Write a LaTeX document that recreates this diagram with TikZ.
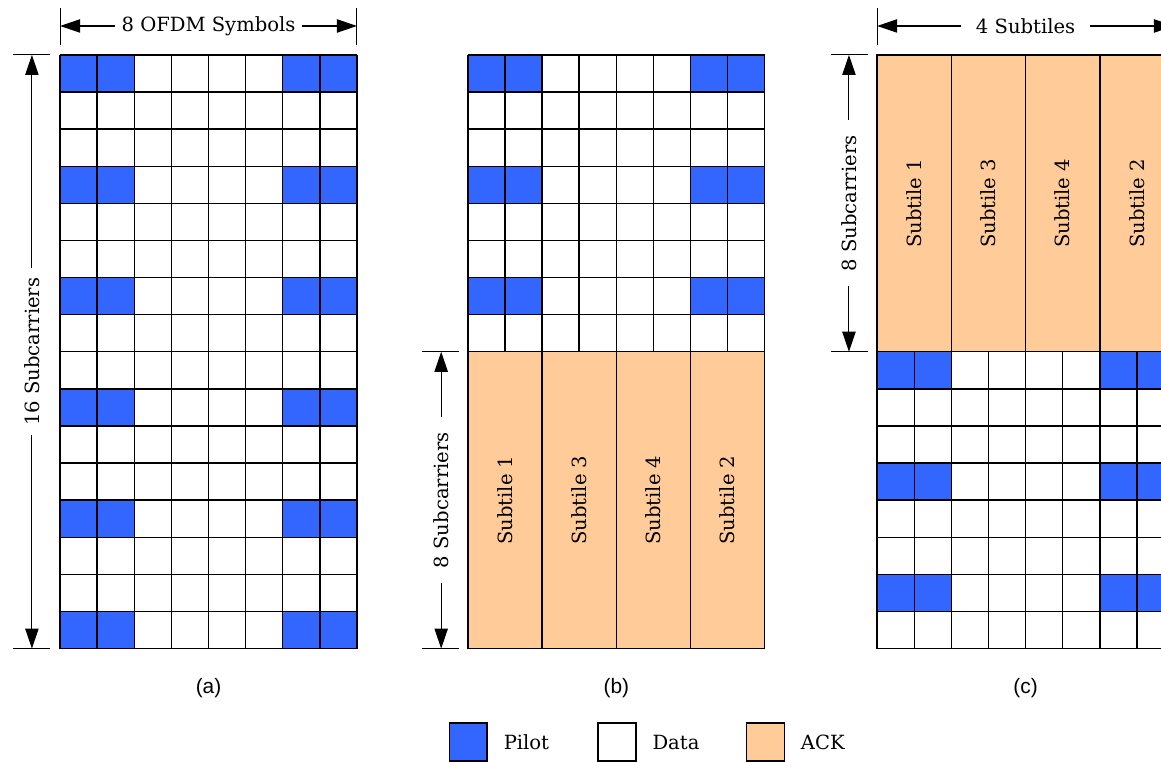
\documentclass[tikz,border=0pt]{standalone}
\usepackage{fontspec}
\setmainfont{DejaVu Serif}
\newfontfamily\capfont{Liberation Sans}
\usepackage{xcolor}
\usetikzlibrary{positioning, arrows.meta}
\definecolor{pilotblue}{RGB}{51,102,255}
\definecolor{ackorange}{RGB}{255,204,153}
\tikzset{
    gridline/.style={line width=1.1pt, black},
    pilotcell/.style={fill=pilotblue},
    ackbox/.style={draw, line width=1.1pt, fill=ackorange, rotate=90, minimum width=8cm, minimum height=2cm, inner sep=0pt, font=\fontsize{15}{18}\selectfont},
    dimlbl/.style={font=\fontsize{15}{18}\selectfont, inner sep=0.3cm},
    dimarrow/.style={-{Triangle[length=5.4mm, width=3.6mm]}, line width=0.8pt},
    dimtick/.style={line width=0.8pt},
    caplbl/.style={font=\capfont\fontsize{16}{19}\selectfont},
    legbox/.style={draw, line width=1.1pt, minimum size=1.02cm, inner sep=0pt},
    legtxt/.style={font=\fontsize{15}{18}\selectfont, inner sep=2pt},
}

\begin{document}
\begin{tikzpicture}
    \useasboundingbox (0,0) rectangle (31.29,-20.51);
    \clip (0,0) rectangle (31.29,-20.51);
    % (a) pilot + data, 16 subcarriers
    \begin{scope}[shift={(1.62,-17.48)}]
        \foreach \r in {0,3,...,15}
            \foreach \c in {0,1,6,7}
                \fill[pilotcell] (\c,\r) rectangle ++(1,1);
        \draw[gridline] (0,0) grid (8,16);
    \end{scope}
    % (b) ACK in the lower half
    \begin{scope}[shift={(12.61,-17.48)}]
        \foreach \r in {9,12,15}
            \foreach \c in {0,1,6,7}
                \fill[pilotcell] (\c,\r) rectangle ++(1,1);
        \draw[gridline] (0,8) grid (8,16);
        \node[ackbox] (bst1) at (1,4) {Subtile 1};
        \node[ackbox] (bst3) at (3,4) {Subtile 3};
        \node[ackbox] (bst4) at (5,4) {Subtile 4};
        \node[ackbox] (bst2) at (7,4) {Subtile 2};
    \end{scope}
    % (c) ACK in the upper half
    \begin{scope}[shift={(23.64,-17.48)}]
        \foreach \r in {1,4,7}
            \foreach \c in {0,1,6,7}
                \fill[pilotcell] (\c,\r) rectangle ++(1,1);
        \draw[gridline] (0,0) grid (8,8);
        \node[ackbox] (cst1) at (1,12) {Subtile 1};
        \node[ackbox] (cst3) at (3,12) {Subtile 3};
        \node[ackbox] (cst4) at (5,12) {Subtile 4};
        \node[ackbox] (cst2) at (7,12) {Subtile 2};
    \end{scope}

    % dimension marks
    \draw[dimtick] (1.62,-0.22) -- (1.62,-1.21);
    \draw[dimtick] (9.62,-0.22) -- (9.62,-1.21);
    \node[dimlbl, inner sep=0.18cm] (symlbl) at (5.62,-0.70) {8 OFDM Symbols};
    \coordinate (symL) at (1.62,-0.70);
    \coordinate (symR) at (9.62,-0.70);
    \draw[dimarrow] (symlbl) -- (symL);
    \draw[dimarrow] (symlbl) -- (symR);

    \draw[dimtick] (0.35,-1.48) -- (1.35,-1.48);
    \draw[dimtick] (0.35,-17.48) -- (1.35,-17.48);
    \node[dimlbl, rotate=90, inner sep=0.25cm] (scalbl) at (0.86,-9.48) {16 Subcarriers};
    \coordinate (scaT) at (0.86,-1.48);
    \coordinate (scaB) at (0.86,-17.48);
    \draw[dimarrow] (scalbl) -- (scaT);
    \draw[dimarrow] (scalbl) -- (scaB);

    \draw[dimtick] (11.37,-9.48) -- (12.37,-9.48);
    \draw[dimtick] (11.37,-17.48) -- (12.37,-17.48);
    \node[dimlbl, rotate=90, inner sep=0.4cm] (scblbl) at (11.89,-13.48) {8 Subcarriers};
    \coordinate (scbT) at (11.89,-9.48);
    \coordinate (scbB) at (11.89,-17.48);
    \draw[dimarrow] (scblbl) -- (scbT);
    \draw[dimarrow] (scblbl) -- (scbB);

    \draw[dimtick] (22.40,-1.48) -- (23.40,-1.48);
    \draw[dimtick] (22.40,-9.48) -- (23.40,-9.48);
    \node[dimlbl, rotate=90, inner sep=0.4cm] (scclbl) at (22.88,-5.48) {8 Subcarriers};
    \coordinate (sccT) at (22.88,-1.48);
    \coordinate (sccB) at (22.88,-9.48);
    \draw[dimarrow] (scclbl) -- (sccT);
    \draw[dimarrow] (scclbl) -- (sccB);

    \draw[dimtick] (23.64,-0.22) -- (23.64,-1.21);
    \draw[dimtick] (31.64,-0.22) -- (31.64,-1.21);
    \node[dimlbl, inner sep=0.4cm] (stlbl) at (27.64,-0.70) {4 Subtiles};
    \coordinate (stL) at (23.64,-0.70);
    \coordinate (stR) at (31.64,-0.70);
    \draw[dimarrow] (stlbl) -- (stL);
    \draw[dimarrow] (stlbl) -- (stR);

    % captions
    \node[caplbl] (capa) at (5.62,-18.54) {(a)};
    \node[caplbl] (capb) at (16.61,-18.54) {(b)};
    \node[caplbl] (capc) at (27.64,-18.54) {(c)};

    % legend
    \node[legbox, fill=pilotblue] (legp) at (12.62,-20.0) {};
    \node[legtxt, right=0.35cm of legp] (legptxt) {Pilot};
    \node[legbox, fill=white] (legd) at (16.63,-20.0) {};
    \node[legtxt, right=0.35cm of legd] (legdtxt) {Data};
    \node[legbox, fill=ackorange] (lega) at (20.63,-20.0) {};
    \node[legtxt, right=0.35cm of lega] (legatxt) {ACK};
\end{tikzpicture}
\end{document}
